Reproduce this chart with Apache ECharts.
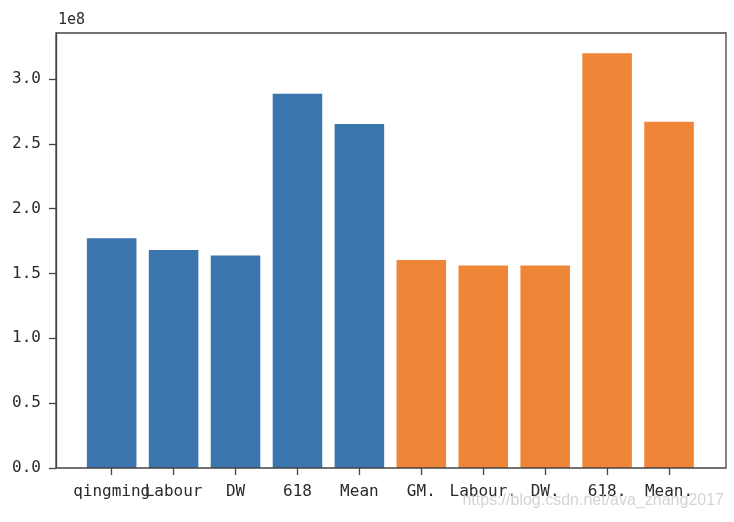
<!DOCTYPE html>
<html>
<head>
<meta charset="utf-8">
<script src="https://cdn.jsdelivr.net/npm/echarts@6/dist/echarts.min.js"></script>
<style>
html,body{margin:0;padding:0;background:#fff;}
#chart{width:734px;height:522px;}
</style>
</head>
<body>
<div id="chart"></div>
<script>
var categories = ['qingming', 'Labour', 'DW', '618', 'Mean', 'GM.', 'Labour.', 'DW.', '618.', 'Mean.'];
var seriesBlue = [177200000, 168200000, 163800000, 288600000, 265400000, '-', '-', '-', '-', '-'];
var seriesOrange = ['-', '-', '-', '-', '-', 160500000, 156100000, 156100000, 319900000, 267000000];
var yTicks = [0, 50000000, 100000000, 150000000, 200000000, 250000000, 300000000];
var yMax = 335500000;
var yUnitLabel = '1e8';
var watermark = 'https://blog.csdn.net/ava_zhang2017';

var chart = echarts.init(document.getElementById('chart'), null, {renderer: 'canvas'});
var labelFont = {fontFamily: 'DejaVu Sans Mono', fontSize: 16, color: '#2a2a2a'};
var frameColor = '#444';

chart.setOption({
  animation: false,
  backgroundColor: '#fff',
  grid: [
    {left: 56, right: 8, top: 33, bottom: 54, show: true, borderColor: frameColor, borderWidth: 1.3, backgroundColor: 'transparent', z: 5},
    {left: 80.7, right: 34, top: 33, bottom: 54, show: false}
  ],
  xAxis: [
    {gridIndex: 0, type: 'value', min: 0, max: 1, show: false},
    {gridIndex: 1, type: 'category', data: categories,
     axisLine: {show: false},
     axisTick: {show: true, alignWithLabel: true, length: 7, lineStyle: {color: frameColor, width: 1.3}},
     axisLabel: Object.assign({margin: 16, interval: 0}, labelFont)}
  ],
  yAxis: [
    {gridIndex: 0, type: 'value', min: 0, max: yMax,
     name: yUnitLabel, nameLocation: 'end', nameGap: 5,
     nameTextStyle: {fontFamily: 'DejaVu Sans Mono', fontSize: 15, color: '#2a2a2a', align: 'left', verticalAlign: 'bottom', padding: [0, 0, 0, 2]},
     splitLine: {show: false},
     axisLine: {show: true, lineStyle: {color: frameColor, width: 1.3}},
     axisTick: {show: true, length: 7, customValues: yTicks, lineStyle: {color: frameColor, width: 1.3}},
     axisLabel: Object.assign({margin: 15, customValues: yTicks, formatter: function (v) { return (v / 1e8).toFixed(1); }}, labelFont)},
    {gridIndex: 1, type: 'value', min: 0, max: yMax, show: false, splitLine: {show: false}}
  ],
  series: [
    {type: 'bar', xAxisIndex: 1, yAxisIndex: 1, stack: 'all', barWidth: '80%', data: seriesBlue, itemStyle: {color: '#3a75ae'}},
    {type: 'bar', xAxisIndex: 1, yAxisIndex: 1, stack: 'all', barWidth: '80%', data: seriesOrange, itemStyle: {color: '#ef8536'}}
  ],
  graphic: [
    {type: 'text', right: 10, top: 493, z: 100,
     style: {text: watermark, font: '16px "Liberation Sans"', fill: 'rgba(205,205,205,0.85)'}}
  ]
});
</script>
</body>
</html>
